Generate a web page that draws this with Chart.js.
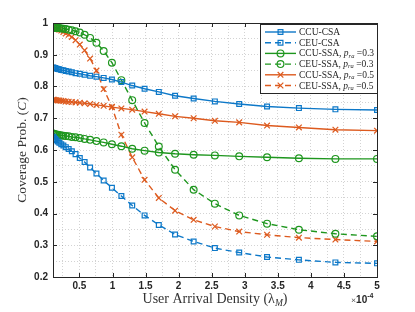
<!DOCTYPE html>
<html>
<head>
<meta charset="utf-8">
<script src="https://cdn.jsdelivr.net/npm/chart.js@4/dist/chart.umd.min.js"></script>
<style>
  body { margin: 0; background: #fff; }
  #wrap { width: 415px; height: 312px; }
</style>
</head>
<body>
<div id="wrap"><canvas id="myChart" width="415" height="312"></canvas></div>
<script>
// user arrival density (x 1e-4)
var density = [0.100, 0.114, 0.131, 0.150, 0.172, 0.196, 0.225, 0.257, 0.294, 0.337,
               0.385, 0.441, 0.505, 0.578, 0.661, 0.757, 0.866, 0.991, 1.134, 1.298,
               1.485, 1.700, 1.946, 2.227, 2.548, 2.916, 3.337, 3.819, 4.371, 5.000];

var ccuCsa  = [0.860, 0.859, 0.858, 0.857, 0.855, 0.854, 0.852, 0.851, 0.849, 0.847,
               0.845, 0.842, 0.840, 0.837, 0.834, 0.831, 0.827, 0.822, 0.814, 0.803,
               0.793, 0.783, 0.771, 0.762, 0.753, 0.745, 0.737, 0.732, 0.728, 0.726];
var ceuCsa  = [0.642, 0.639, 0.635, 0.631, 0.627, 0.623, 0.618, 0.614, 0.609, 0.603,
               0.596, 0.587, 0.575, 0.562, 0.545, 0.526, 0.504, 0.481, 0.455, 0.425,
               0.394, 0.364, 0.334, 0.312, 0.291, 0.277, 0.263, 0.254, 0.246, 0.243];
var ccuSsa3 = [0.652, 0.651, 0.650, 0.649, 0.648, 0.647, 0.646, 0.645, 0.644, 0.643,
               0.641, 0.640, 0.638, 0.635, 0.632, 0.628, 0.624, 0.618, 0.612, 0.604,
               0.598, 0.592, 0.588, 0.585, 0.583, 0.580, 0.577, 0.574, 0.572, 0.572];
var ceuSsa3 = [0.985, 0.985, 0.985, 0.985, 0.984, 0.984, 0.983, 0.982, 0.981, 0.979,
               0.977, 0.974, 0.970, 0.963, 0.953, 0.938, 0.912, 0.875, 0.820, 0.757,
               0.685, 0.611, 0.538, 0.475, 0.431, 0.394, 0.368, 0.349, 0.336, 0.328];
var ccuSsa5 = [0.758, 0.758, 0.757, 0.757, 0.756, 0.756, 0.755, 0.754, 0.753, 0.752,
               0.751, 0.750, 0.749, 0.747, 0.745, 0.742, 0.739, 0.735, 0.731, 0.727,
               0.721, 0.714, 0.706, 0.700, 0.692, 0.687, 0.677, 0.671, 0.664, 0.661];
var ceuSsa5 = [0.986, 0.985, 0.984, 0.983, 0.981, 0.979, 0.976, 0.972, 0.967, 0.963,
               0.956, 0.946, 0.932, 0.914, 0.888, 0.850, 0.792, 0.736, 0.648, 0.577,
               0.506, 0.449, 0.409, 0.380, 0.359, 0.343, 0.333, 0.324, 0.318, 0.312];

var seriesNames = ['CCU-CSA', 'CEU-CSA', 'CCU-SSA, ', 'CEU-SSA, ', 'CCU-SSA, ', 'CEU-SSA, '];
var seriesPra   = [null, null, '0.3', '0.3', '0.5', '0.5'];

// ticks
var xTickLabels = [0.5, 1, 1.5, 2, 2.5, 3, 3.5, 4, 4.5, 5];
var xGridVals   = [0.25, 0.5, 0.75, 1, 1.25, 1.5, 1.75, 2, 2.25, 2.5, 2.75, 3, 3.25, 3.5, 3.75, 4, 4.25, 4.5, 4.75, 5];
var yTickLabels = [0.2, 0.3, 0.4, 0.5, 0.6, 0.7, 0.8, 0.9, 1];
var yGridVals   = [0.2, 0.25, 0.3, 0.35, 0.4, 0.45, 0.5, 0.55, 0.6, 0.65, 0.7, 0.75, 0.8, 0.85, 0.9, 0.95, 1];

var BLUE = '#0d78c8', ORANGE = '#DD5A1E', GREEN = '#1E961E';

function pts(ys) {
    return ys.map(function (v, i) { return { x: density[i], y: v }; });
}

function makeSet(i, ys, color, style, dashed) {
    return {
        label: seriesNames[i] + (seriesPra[i] ? 'p_ra =' + seriesPra[i] : ''),
        data: pts(ys),
        borderColor: color,
        backgroundColor: 'rgba(0,0,0,0)',
        borderWidth: 1.4,
        borderDash: dashed ? [6, 4] : [],
        pointStyle: style,
        pointRadius: style === 'crossRot' ? 4 : 3.4,
        pointBorderWidth: 1.2,
        pointBorderColor: color,
        pointBackgroundColor: 'rgba(0,0,0,0)',
        tension: 0
    };
}

var sets = [
    makeSet(0, ccuCsa, BLUE, 'rect', false),
    makeSet(1, ceuCsa, BLUE, 'rect', true),
    makeSet(2, ccuSsa3, GREEN, 'circle', false),
    makeSet(3, ceuSsa3, GREEN, 'circle', true),
    makeSet(4, ccuSsa5, ORANGE, 'crossRot', false),
    makeSet(5, ceuSsa5, ORANGE, 'crossRot', true)
];

// draw a run of text pieces: [text, font, dy]
function runWidth(ctx, parts) {
    var w = 0;
    parts.forEach(function (p) { ctx.font = p[1]; w += ctx.measureText(p[0]).width; });
    return w;
}
function drawRun(ctx, parts, x, y) {
    parts.forEach(function (p) {
        ctx.font = p[1];
        ctx.fillText(p[0], x, y + (p[2] || 0));
        x += ctx.measureText(p[0]).width;
    });
}

var SERIF = '"Liberation Serif", "DejaVu Serif", serif';
var SANS = '"Liberation Sans", Arial, sans-serif';

var decor = {
    id: 'decor',
    afterDraw: function (chart) {
        var ctx = chart.ctx, a = chart.chartArea, sx = chart.scales.x, sy = chart.scales.y;
        ctx.save();
        // axes box
        ctx.strokeStyle = '#262626';
        ctx.lineWidth = 1;
        ctx.setLineDash([]);
        ctx.strokeRect(Math.round(a.left) + 0.5, Math.round(a.top) + 0.5,
            Math.round(a.right - a.left), Math.round(a.bottom - a.top));
        // inward ticks
        ctx.beginPath();
        xTickLabels.forEach(function (v) {
            var px = Math.round(sx.getPixelForValue(v)) + 0.5;
            ctx.moveTo(px, a.bottom); ctx.lineTo(px, a.bottom - 4);
            ctx.moveTo(px, a.top); ctx.lineTo(px, a.top + 4);
        });
        yTickLabels.forEach(function (v) {
            var py = Math.round(sy.getPixelForValue(v)) + 0.5;
            ctx.moveTo(a.left, py); ctx.lineTo(a.left + 4, py);
            ctx.moveTo(a.right, py); ctx.lineTo(a.right - 4, py);
        });
        ctx.stroke();

        // exponent label
        ctx.fillStyle = '#262626';
        ctx.textBaseline = 'alphabetic';
        drawRun(ctx, [['\u00d7', '9px ' + SERIF, 0], ['10', 'bold 10px ' + SANS, 0],
                      ['-4', 'bold 7px ' + SANS, -5]], 351, 303);

        // axis titles
        ctx.fillStyle = '#333';
        var xt = [['User Arrival Density (\u03bb', '14px ' + SERIF, 0], ['M', 'italic 9.5px ' + SERIF, 3],
                  [')', '14px ' + SERIF, 0]];
        var w = runWidth(ctx, xt);
        drawRun(ctx, xt, (a.left + a.right) / 2 - w / 2, 303);

        var yt = [['Coverage Prob. (', '13.5px ' + SERIF, 0], ['C', 'italic 13.5px ' + SERIF, 0], [')', '13.5px ' + SERIF, 0]];
        ctx.save();
        ctx.translate(26, (a.top + a.bottom) / 2);
        ctx.rotate(-Math.PI / 2);
        w = runWidth(ctx, yt);
        drawRun(ctx, yt, -w / 2, 0);
        ctx.restore();

        // legend
        var lx = 260, ly = 24, lw = Math.round(a.right) - lx, lh = 69;
        ctx.fillStyle = '#fff';
        ctx.fillRect(lx, ly, lw, lh);
        ctx.strokeStyle = '#262626';
        ctx.lineWidth = 1;
        ctx.strokeRect(lx + 0.5, ly + 0.5, lw, lh);
        sets.forEach(function (ds, i) {
            var ry = 32 + i * 10.7;
            ctx.strokeStyle = ds.borderColor;
            ctx.lineWidth = 1.4;
            ctx.setLineDash(ds.borderDash);
            ctx.beginPath();
            ctx.moveTo(265, ry); ctx.lineTo(296, ry);
            ctx.stroke();
            ctx.setLineDash([]);
            ctx.lineWidth = 1.2;
            ctx.fillStyle = 'rgba(0,0,0,0)';
            Chart.helpers.drawPoint(ctx, { pointStyle: ds.pointStyle, radius: ds.pointRadius, rotation: 0, borderWidth: 1.2 }, 280.5, ry);
            ctx.fillStyle = '#262626';
            ctx.textBaseline = 'middle';
            var parts = [[seriesNames[i], '9.5px ' + SERIF, 0]];
            if (seriesPra[i]) {
                parts.push(['p', 'italic 9.5px ' + SERIF, 0]);
                parts.push(['ra', 'italic 6.5px ' + SERIF, 2]);
                parts.push([' =' + seriesPra[i], '9.5px ' + SERIF, 0]);
            }
            drawRun(ctx, parts, 299, ry + 0.5);
        });
        ctx.restore();
    }
};

var ctx = document.getElementById('myChart');

var chartGraph = new Chart(ctx, {
    type: 'line',
    data: { datasets: sets },
    options: {
        responsive: false,
        animation: false,
        devicePixelRatio: 1,
        layout: { padding: { top: 23, right: 38, left: 0, bottom: 0 } },
        plugins: {
            legend: { display: false },
            tooltip: { enabled: false }
        },
        scales: {
            x: {
                type: 'linear',
                min: 0.1,
                max: 5,
                afterBuildTicks: function (s) { s.ticks = xGridVals.map(function (v) { return { value: v }; }); },
                afterFit: function (s) { s.height = 35; },
                ticks: {
                    autoSkip: false,
                    maxRotation: 0,
                    padding: 3,
                    color: '#262626',
                    font: { family: SANS, size: 10, weight: 'bold' },
                    callback: function (v) { return xTickLabels.indexOf(v) >= 0 ? String(v) : ''; }
                },
                grid: { color: 'rgba(0,0,0,0.22)', lineWidth: 0.8, drawTicks: false },
                border: { display: false, dash: [1, 2] }
            },
            y: {
                type: 'linear',
                min: 0.2,
                max: 1,
                afterBuildTicks: function (s) { s.ticks = yGridVals.map(function (v) { return { value: v }; }); },
                afterFit: function (s) { s.width = 53; },
                ticks: {
                    autoSkip: false,
                    padding: 5,
                    color: '#262626',
                    font: { family: SANS, size: 10, weight: 'bold' },
                    callback: function (v) { return yTickLabels.indexOf(v) >= 0 ? String(v) : ''; }
                },
                grid: { color: 'rgba(0,0,0,0.22)', lineWidth: 0.8, drawTicks: false },
                border: { display: false, dash: [1, 2] }
            }
        }
    },
    plugins: [decor]
});
</script>
</body>
</html>
